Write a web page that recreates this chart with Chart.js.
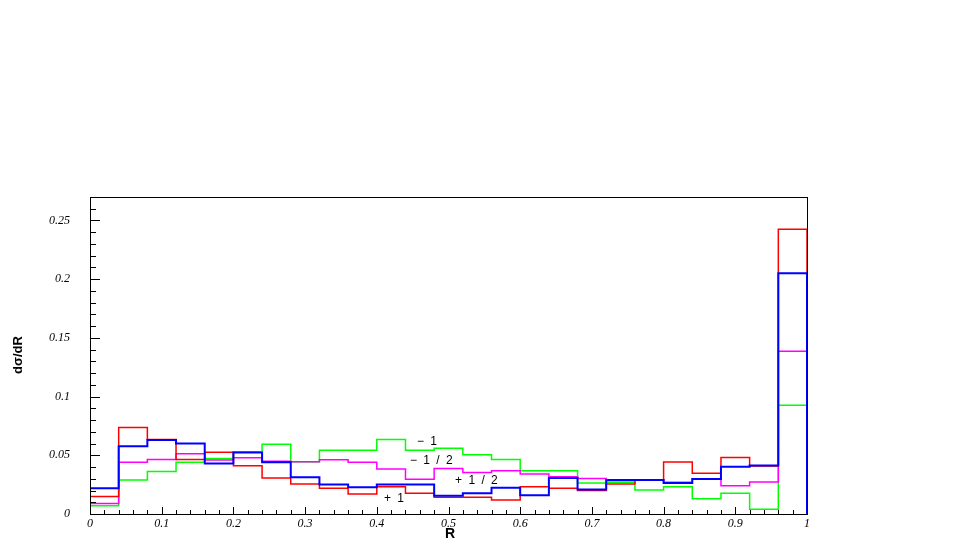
<!DOCTYPE html>
<html>
<head>
<meta charset="utf-8">
<script src="https://cdn.jsdelivr.net/npm/chart.js@4/dist/chart.umd.min.js"></script>
<style>
  html, body { margin: 0; padding: 0; background: #fff; }
  canvas { display: block; }
</style>
</head>
<body>
<canvas id="histo" width="969" height="554"></canvas>
<script>
// bin edges in R (25 bins of width 0.04)
const binEdges = [0, 0.04, 0.08, 0.12, 0.16, 0.2, 0.24, 0.28, 0.32, 0.36, 0.4, 0.44, 0.48,
  0.52, 0.56, 0.6, 0.64, 0.68, 0.72, 0.76, 0.8, 0.84, 0.88, 0.92, 0.96, 1];

// dsigma/dR per bin
const redVals = [0.015, 0.0737, 0.0635, 0.0465, 0.0527, 0.041, 0.0306, 0.0255, 0.022, 0.017,
  0.0232, 0.0176, 0.0142, 0.0142, 0.0119, 0.0232, 0.022, 0.020, 0.0255, 0.029,
  0.0442, 0.0348, 0.0482, 0.0408, 0.2426];
const blueVals = [0.0219, 0.0578, 0.063, 0.060, 0.043, 0.0524, 0.044, 0.0312, 0.0252, 0.0227,
  0.0252, 0.0252, 0.0155, 0.0176, 0.0224, 0.016, 0.0306, 0.0208, 0.0289, 0.0289,
  0.0263, 0.0298, 0.0402, 0.0414, 0.205];
const magentaVals = [0.009, 0.044, 0.0465, 0.0513, 0.046, 0.048, 0.045, 0.0445, 0.0463, 0.044,
  0.0383, 0.0295, 0.0387, 0.0354, 0.0368, 0.034, 0.0317, 0.0302, 0.0285, 0.029,
  0.027, 0.030, 0.0241, 0.0272, 0.1386];
const greenVals = [0.007, 0.0289, 0.0363, 0.044, 0.0473, 0.053, 0.0595, 0.0445, 0.0544, 0.0544,
  0.0635, 0.0544, 0.0561, 0.0505, 0.0465, 0.0368, 0.0368, 0.0263, 0.027, 0.0204,
  0.0232, 0.013, 0.0176, 0.004, 0.0927];

// curve labels, placed in data coordinates
const curveLabels = [
  { text: "\u2212 1", x: 0.471, y: 0.062 },
  { text: "\u2212 1 / 2", x: 0.477, y: 0.045 },
  { text: "+ 1 / 2", x: 0.540, y: 0.028 },
  { text: "+ 1", x: 0.425, y: 0.0128 },
];

const xTitle = "R";
const yTitle = "d\u03c3/dR";

// histogram outline: rise from 0 at the first edge, walk the bins, drop to 0 at the last edge
function histoPoints(vals) {
  const pts = [{ x: binEdges[0], y: 0 }, { x: binEdges[0], y: vals[0] }];
  vals.forEach((v, i) => pts.push({ x: binEdges[i + 1], y: v }));
  const last = binEdges[binEdges.length - 1];
  pts.push({ x: last, y: 0 });
  return pts;
}

function histoSet(label, vals, color, width) {
  return {
    label,
    data: histoPoints(vals),
    borderColor: color,
    backgroundColor: color,
    borderWidth: width,
    stepped: false,
    pointRadius: 0,
    fill: false,
  };
}

// stepped look: insert the corner points so every segment is horizontal or vertical
function stepCorners(pts) {
  const out = [pts[0]];
  for (let i = 1; i < pts.length; i++) {
    const p = pts[i], q = out[out.length - 1];
    if (p.x !== q.x && p.y !== q.y) out.push({ x: q.x, y: p.y });
    out.push(p);
  }
  return out;
}

const fmt = (v) => String(Math.round(v * 100) / 100);

// frame, inward ticks, labels and axis titles
const rootStyle = {
  id: "rootStyle",
  afterDatasetsDraw(chart) {
    const { ctx, chartArea: a, scales: { x, y } } = chart;
    ctx.save();
    ctx.strokeStyle = "#000";
    ctx.lineWidth = 1;
    ctx.strokeRect(a.left + 0.5, a.top + 0.5, a.right - a.left, a.bottom - a.top);

    ctx.beginPath();
    for (let k = 0; k <= 50; k++) {
      const v = k * 0.02;
      const px = Math.round(x.getPixelForValue(v)) + 0.5;
      const len = k % 5 === 0 ? 7 : 4;
      ctx.moveTo(px, a.bottom);
      ctx.lineTo(px, a.bottom - len);
    }
    for (let k = 0; k <= 27; k++) {
      const v = k * 0.01;
      const py = Math.round(y.getPixelForValue(v)) + 0.5;
      if (py < a.top) break;
      const len = k % 5 === 0 ? 10 : 6;
      ctx.moveTo(a.left, py);
      ctx.lineTo(a.left + len, py);
    }
    ctx.stroke();

    ctx.fillStyle = "#000";
    ctx.font = '12px "Liberation Sans"';
    ctx.letterSpacing = "1.5px";
    ctx.textAlign = "center";
    ctx.textBaseline = "middle";
    curveLabels.forEach(l => {
      ctx.fillText(l.text, x.getPixelForValue(l.x), y.getPixelForValue(l.y));
    });
    ctx.letterSpacing = "0px";

    ctx.font = 'bold 14px "Liberation Sans"';
    ctx.fillText(xTitle, 450, 534);
    ctx.translate(18, 355);
    ctx.rotate(-Math.PI / 2);
    ctx.font = 'bold 13px "Liberation Sans"';
    ctx.fillText(yTitle, 0, 0);
    ctx.restore();
  }
};

const tickFont = { family: "Liberation Serif", style: "italic", size: 12 };

const sets = [
  histoSet("+1", blueVals, "#0000ff", 2),
  histoSet("-1", redVals, "#ff0000", 1.5),
  histoSet("+1/2", magentaVals, "#ff00ff", 1.5),
  histoSet("-1/2", greenVals, "#00ff00", 1.5),
];
sets.forEach(s => { s.data = stepCorners(s.data); });

new Chart(document.getElementById("histo"), {
  type: "line",
  data: { datasets: sets },
  options: {
    responsive: false,
    animation: false,
    layout: { padding: { top: 197, right: 162, left: 0, bottom: 0 } },
    plugins: { legend: { display: false }, tooltip: { enabled: false } },
    scales: {
      x: {
        type: "linear",
        min: 0,
        max: 1,
        grid: { display: false, drawTicks: false },
        border: { display: false },
        ticks: { stepSize: 0.1, padding: 3, color: "#000", font: tickFont, maxRotation: 0, callback: fmt },
        afterFit: (s) => { s.height = 40; },
      },
      y: {
        min: 0,
        max: 0.27,
        grid: { display: false, drawTicks: false },
        border: { display: false },
        ticks: { stepSize: 0.05, padding: 20, color: "#000", font: tickFont, callback: (v) => (v > 0.26 ? "" : fmt(v)) },
        afterFit: (s) => { s.width = 90; },
      },
    },
  },
  plugins: [rootStyle],
});
</script>
</body>
</html>
